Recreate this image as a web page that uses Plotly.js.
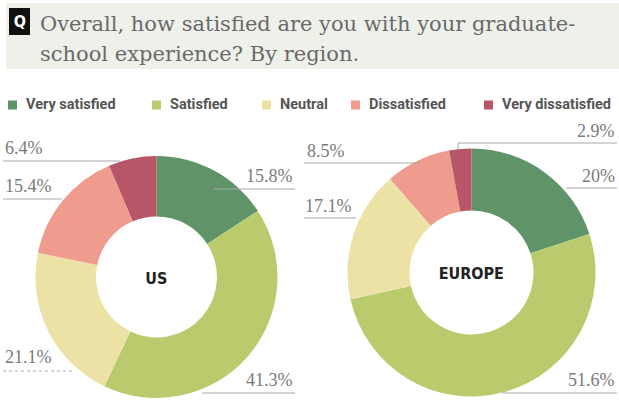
<!DOCTYPE html>
<html>
<head>
<meta charset="utf-8">
<script src="https://cdn.plot.ly/plotly-3.0.1.min.js"></script>
<style>html,body{margin:0;padding:0;background:#fff;}#chart{width:619px;height:400px;}</style>
</head>
<body>
<div id="chart"></div>
<script>
// ---- data ----
const categories = ['Very satisfied', 'Satisfied', 'Neutral', 'Dissatisfied', 'Very dissatisfied'];
const regions = ['US', 'EUROPE'];
const usValues = [15.8, 41.3, 21.1, 15.4, 6.4];
const europeValues = [20, 51.6, 17.1, 8.5, 2.9];
const colors = ['#5f9468', '#b9cb6c', '#ece2a5', '#ef9b8d', '#b85669'];
const titleLines = ['Overall, how satisfied are you with your graduate-', 'school experience? By region.'];

// ---- layout helpers (pixel -> paper) ----
const W = 619, H = 400;
const X = px => px / W;
const Y = py => 1 - py / H;

// pie geometry (pixels)
const pieGeom = [
  {cx: 156.5, cy: 277, r: 121},
  {cx: 471.5, cy: 272.5, r: 124}
];
// label placement per slice (pixels): side, text x, text y, leader line
const labelPos = [
  [
    {side: 'right', tx: 294, ty: 176, lx0: 214, lx1: 295, ly: 189},
    {side: 'right', tx: 294, ty: 380, lx0: 202, lx1: 295, ly: 393},
    {side: 'left',  tx: 4,   ty: 357, lx0: 3,   lx1: 72,  ly: 371, dash: 'dot'},
    {side: 'left',  tx: 4,   ty: 186, lx0: 3,   lx1: 62,  ly: 199},
    {side: 'left',  tx: 4,   ty: 148, lx0: 3,   lx1: 120, ly: 161}
  ],
  [
    {side: 'right', tx: 616, ty: 176, lx0: 566, lx1: 617, ly: 188},
    {side: 'right', tx: 616, ty: 380, lx0: 502, lx1: 617, ly: 393},
    {side: 'left',  tx: 304, ty: 206, lx0: 304, lx1: 356, ly: 218},
    {side: 'left',  tx: 306, ty: 151, lx0: 304, lx1: 420, ly: 163},
    {side: 'right', tx: 616, ty: 131, lx0: 458, lx1: 617, ly: 143, tick: 150}
  ]
];
const legendPos = [8, 152, 262, 351, 484];

const allValues = [usValues, europeValues];

const traces = allValues.map((vals, i) => {
  const g = pieGeom[i];
  return {
    type: 'pie',
    labels: categories,
    values: vals,
    sort: false,
    direction: 'clockwise',
    rotation: 0,
    hole: 0.5,
    textinfo: 'none',
    hoverinfo: 'label+percent',
    showlegend: false,
    marker: {colors: colors, line: {width: 0}},
    domain: {
      x: [X(g.cx - g.r), X(g.cx + g.r)],
      y: [Y(g.cy + g.r), Y(g.cy - g.r)]
    },
    name: regions[i]
  };
});

const shapes = [];
const annotations = [];
const condensed = 'DejaVu Sans, sans-serif';

// title block
shapes.push({type: 'rect', xref: 'paper', yref: 'paper', x0: X(6), x1: X(619), y0: Y(69), y1: Y(3),
  fillcolor: '#eef0ea', line: {width: 0}, layer: 'below'});
shapes.push({type: 'rect', xref: 'paper', yref: 'paper', x0: X(9), x1: X(30), y0: Y(35), y1: Y(8),
  fillcolor: '#111111', line: {width: 0}});
annotations.push({xref: 'paper', yref: 'paper', x: X(19.5), y: Y(21.5), text: '<b>Q</b>', showarrow: false,
  xanchor: 'center', yanchor: 'middle', font: {family: condensed, size: 16, color: '#ffffff'}});
titleLines.forEach((t, i) => {
  annotations.push({xref: 'paper', yref: 'paper', x: X(38), y: Y(24 + i * 30), text: t, showarrow: false,
    xanchor: 'left', yanchor: 'middle',
    font: {family: 'DejaVu Serif, serif', size: 21, color: '#6a6a6a'}});
});

// legend
categories.forEach((c, i) => {
  const x0 = legendPos[i];
  shapes.push({type: 'rect', xref: 'paper', yref: 'paper', x0: X(x0), x1: X(x0 + 9), y0: Y(109.5), y1: Y(100.5),
    fillcolor: colors[i], line: {width: 0}});
  annotations.push({xref: 'paper', yref: 'paper', x: X(x0 + 16), y: Y(104.5), text: '<b>' + c + '</b>', showarrow: false,
    xanchor: 'left', yanchor: 'middle',
    font: {family: 'Roboto, Liberation Sans, sans-serif', size: 14.5, color: '#555555'}});
});

// center labels and value labels
allValues.forEach((vals, i) => {
  const g = pieGeom[i];
  annotations.push({xref: 'paper', yref: 'paper', x: X(g.cx), y: Y(g.cy + 1), text: '<b>' + regions[i] + '</b>', showarrow: false,
    xanchor: 'center', yanchor: 'middle',
    font: {family: condensed, size: 16, color: '#222222'}});
  vals.forEach((v, j) => {
    const p = labelPos[i][j];
    annotations.push({xref: 'paper', yref: 'paper', x: X(p.tx), y: Y(p.ty), text: v + '%', showarrow: false,
      xanchor: p.side, yanchor: 'middle', borderpad: 0,
      font: {family: 'Liberation Serif, serif', size: 18, color: '#7a7a7a'}});
    shapes.push({type: 'line', xref: 'paper', yref: 'paper', x0: X(p.lx0), x1: X(p.lx1), y0: Y(p.ly), y1: Y(p.ly),
      line: {color: '#a8a8a8', width: 1, dash: p.dash || 'solid'}});
    if (p.tick) {
      shapes.push({type: 'line', xref: 'paper', yref: 'paper', x0: X(p.lx0), x1: X(p.lx0), y0: Y(p.ly), y1: Y(p.tick),
        line: {color: '#a8a8a8', width: 1}});
    }
  });
});

const layout = {
  width: W, height: H,
  margin: {l: 0, r: 0, t: 0, b: 0},
  paper_bgcolor: '#ffffff',
  showlegend: false,
  shapes: shapes,
  annotations: annotations
};

Plotly.newPlot('chart', traces, layout, {displayModeBar: false, staticPlot: true}).then(() => {
  // use the condensed face for the heading-style labels
  document.querySelectorAll('#chart .annotation-text').forEach(el => {
    const t = el.textContent;
    if (t === 'Q' || regions.indexOf(t) >= 0) {
      el.style.fontStretch = 'condensed';
    }
  });
});
</script>
</body>
</html>
